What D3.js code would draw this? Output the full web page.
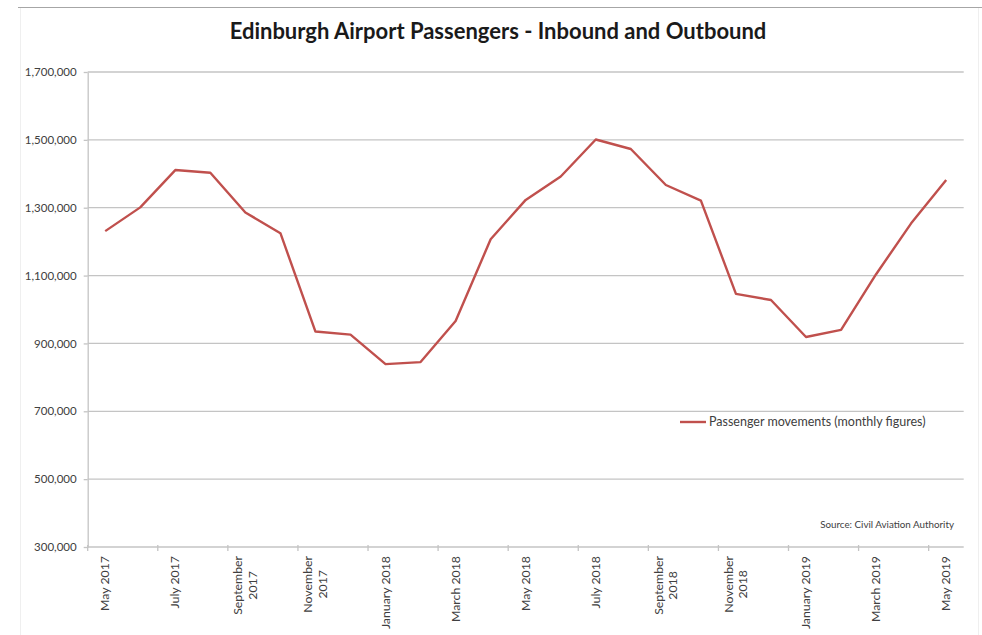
<!DOCTYPE html>
<html>
<head>
<meta charset="utf-8">
<script src="https://cdn.jsdelivr.net/npm/d3@7"></script>
<style>
  html, body { margin: 0; padding: 0; background: #fff; }
  svg { display: block; }
  text { font-family: Lato, "Open Sans", sans-serif; }
</style>
</head>
<body>
<script>
// Monthly passenger movements at Edinburgh Airport, May 2017 – May 2019
const months = [
  "May 2017", "June 2017", "July 2017", "August 2017", "September 2017", "October 2017",
  "November 2017", "December 2017", "January 2018", "February 2018", "March 2018", "April 2018",
  "May 2018", "June 2018", "July 2018", "August 2018", "September 2018", "October 2018",
  "November 2018", "December 2018", "January 2019", "February 2019", "March 2019", "April 2019",
  "May 2019"
];
const passengers = [
  1231000, 1301000, 1411000, 1403000, 1286000, 1225000,
  935000, 926000, 839000, 845000, 966000, 1207000,
  1323000, 1392000, 1501000, 1473000, 1367000, 1321000,
  1046000, 1028000, 919000, 940000, 1104000, 1254000,
  1382000
];
const yTicks = [300000, 500000, 700000, 900000, 1100000, 1300000, 1500000, 1700000];
// Axis labels shown on every second month; long month names wrap onto two lines
const xLabels = {
  "May 2017": ["May 2017"], "July 2017": ["July 2017"], "September 2017": ["September", "2017"],
  "November 2017": ["November", "2017"], "January 2018": ["January 2018"], "March 2018": ["March 2018"],
  "May 2018": ["May 2018"], "July 2018": ["July 2018"], "September 2018": ["September", "2018"],
  "November 2018": ["November", "2018"], "January 2019": ["January 2019"], "March 2019": ["March 2019"],
  "May 2019": ["May 2019"]
};
const title = "Edinburgh Airport Passengers - Inbound and Outbound";
const seriesName = "Passenger movements (monthly figures)";
const source = "Source: Civil Aviation Authority";

const W = 982, H = 635;
const plot = { left: 87.7, right: 963.7, top: 72, bottom: 547 };
const lineColor = "#C0504D";
const gridColor = "#c4c4c4";
const textColor = "#404040";

const svg = d3.select("body").append("svg").attr("width", W).attr("height", H);

// outer frame of the chart area
svg.append("line").attr("x1", 18).attr("x2", W).attr("y1", 7.5).attr("y2", 7.5)
  .attr("stroke", "#a6a6a6").attr("stroke-width", 1.2);
[20.5, 978.5].forEach(x => svg.append("line").attr("x1", x).attr("x2", x)
  .attr("y1", 8).attr("y2", H).attr("stroke", "#efefef").attr("stroke-width", 1));

const x = d3.scaleBand().domain(months).range([plot.left, plot.right]).padding(0);
const y = d3.scaleLinear().domain([300000, 1700000]).range([plot.bottom, plot.top]);
const cx = d => x(d) + x.bandwidth() / 2;

// horizontal gridlines and value labels
const yAxis = svg.append("g").attr("transform", `translate(${plot.left},0)`)
  .call(d3.axisLeft(y).tickValues(yTicks).tickFormat(d3.format(",")).tickSizeInner(4).tickSizeOuter(0).tickPadding(7));
yAxis.select(".domain").attr("stroke", gridColor).attr("stroke-width", 1.3);
yAxis.selectAll(".tick line").attr("stroke", gridColor).attr("stroke-width", 1.3);
yAxis.selectAll(".tick text").attr("fill", textColor).attr("font-size", 11.5);
svg.append("g").selectAll("line").data(yTicks.filter(v => v > 300000)).join("line")
  .attr("x1", plot.left).attr("x2", plot.right)
  .attr("y1", d => y(d)).attr("y2", d => y(d))
  .attr("stroke", gridColor).attr("stroke-width", 1.3);

// category axis
const labelMonths = months.filter(m => xLabels[m]);
svg.append("line").attr("x1", plot.left).attr("x2", plot.right)
  .attr("y1", plot.bottom).attr("y2", plot.bottom)
  .attr("stroke", gridColor).attr("stroke-width", 1.3);
svg.append("g").selectAll("line").data(labelMonths).join("line")
  .attr("x1", d => x(d)).attr("x2", d => x(d))
  .attr("y1", plot.bottom - 2).attr("y2", plot.bottom + 4)
  .attr("stroke", gridColor).attr("stroke-width", 1.3);

const labelTop = 556;
const xl = svg.append("g").attr("fill", textColor).attr("font-size", 12.3);
labelMonths.forEach(m => {
  const lines = xLabels[m];
  const g = xl.append("g");
  const texts = lines.map((s, i) => g.append("text").text(s));
  const longest = d3.max(texts, t => t.node().getComputedTextLength());
  const centerY = labelTop + longest / 2;
  const lh = 14.5;
  texts.forEach((t, i) => {
    const lx = cx(m) + (i - (lines.length - 1) / 2) * lh + 4;
    t.attr("text-anchor", "middle")
      .attr("transform", `translate(${lx},${centerY}) rotate(-90)`);
  });
});

// series line
const line = d3.line().x((d, i) => cx(months[i])).y(d => y(d));
svg.append("path").datum(passengers)
  .attr("d", line).attr("fill", "none")
  .attr("stroke", lineColor).attr("stroke-width", 2.4).attr("stroke-linejoin", "round");

// title
svg.append("text").attr("x", 498).attr("y", 39).attr("text-anchor", "middle")
  .attr("font-size", 22).attr("font-weight", 700).attr("fill", "#1a1a1a").text(title);

// legend
svg.append("line").attr("x1", 680).attr("x2", 706).attr("y1", 422).attr("y2", 422)
  .attr("stroke", lineColor).attr("stroke-width", 2.4);
svg.append("text").attr("x", 709).attr("y", 426).attr("font-size", 12.5)
  .attr("fill", textColor).text(seriesName);

// source note
svg.append("text").attr("x", 954).attr("y", 528).attr("text-anchor", "end")
  .attr("font-size", 9.8).attr("fill", textColor).text(source);
</script>
</body>
</html>
